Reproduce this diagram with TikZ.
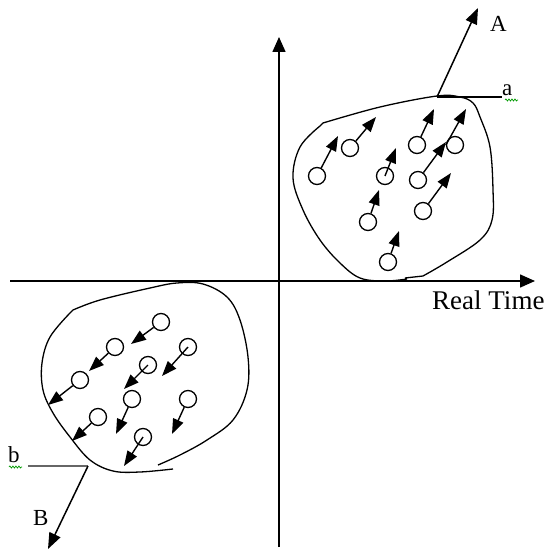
\documentclass[tikz,border=0pt]{standalone}
\usepackage{fontspec}
\setmainfont{Liberation Serif}
\usetikzlibrary{arrows.meta,decorations.pathmorphing}
\begin{document}
\begin{tikzpicture}[x=1pt,y=-1pt,
  dot/.style={circle,draw,line width=1.3pt,minimum size=17pt,inner sep=0pt},
  vec/.style={line width=1.4pt,-{Triangle[length=15pt,width=11pt]}},
  bigvec/.style={line width=1.5pt,-{Triangle[length=16pt,width=12pt]}},
  axis/.style={line width=1.5pt,-{Triangle[length=15pt,width=13pt]}},
  blob/.style={line width=1.3pt},
  lbl/.style={font=\fontsize{23}{27}\selectfont,inner sep=0pt,anchor=base west},
  squig/.style={green!60!black,line width=0.7pt,decorate,decoration={snake,amplitude=1pt,segment length=3pt}}
]
\useasboundingbox (0,0) rectangle (549,551);

% axes
\coordinate (xs) at (10,281);
\coordinate (xe) at (535,281);
\coordinate (ys) at (279,547);
\coordinate (ye) at (279,37);
\draw[axis] (xs) -- (xe);
\draw[axis] (ys) -- (ye);

% top-right blob
\draw[blob] plot[smooth,tension=0.6] coordinates {(407,279) (385,281) (360,278) (340,263) (320,240) (303,210) (293,178) (300,147) (320,126)}
  -- plot[smooth,tension=0.6] coordinates {(323,123) (380,107) (437,96) (460,97) (473,103) (480,117) (490,147) (493,190) (492,220) (480,240) (447,262) (423,276)} -- (405,278);

% bottom-left blob
\draw[blob] plot[smooth,tension=0.6] coordinates {(173,469) (140,472) (113,471) (90,460) (70,437) (53,413) (43,390) (42,363) (50,337) (70,313)}
  -- plot[smooth,tension=0.6] coordinates {(73,310) (100,300) (150,288) (177,283) (203,284) (227,297) (240,320) (248,357) (247,390) (233,420) (207,440) (180,455) (158,465)};

% A / a
\coordinate (pa) at (437,97);
\coordinate (ea) at (502,97);
\coordinate (ta) at (478,8);
\draw[line width=1.3pt] (pa) -- (ea);
\draw[bigvec] (pa) -- (ta);

% B / b
\coordinate (pb) at (88,466);
\coordinate (sb) at (28,466);
\coordinate (tb) at (48,549);
\draw[line width=2.2pt,black!60] (sb) -- (pb);
\draw[bigvec] (pb) -- (tb);

% labels
\node[lbl] (la) at (490,32) {A};
\node[lbl] (lsa) at (502,95) {a};
\node[lbl] (lsb) at (8,462) {b};
\node[lbl] (lB) at (33,525) {B};
\node[lbl,font=\fontsize{27}{32}\selectfont] (rt) at (432,309) {Real Time};
\draw[squig] (505,100) -- (518,100);
\draw[squig] (9,467) -- (22,467);

% top-right particles
\node[dot] (t1) at (317,176) {};
\node[dot] (t2) at (350,148) {};
\node[dot] (t3) at (385,176) {};
\node[dot] (t4) at (417,145) {};
\node[dot] (t5) at (455,145) {};
\node[dot] (t6) at (418,180) {};
\node[dot] (t7) at (368,222) {};
\node[dot] (t8) at (423,211) {};
\node[dot] (t9) at (388,262) {};
\coordinate (h1) at (338,136);
\coordinate (h2) at (376,117);
\coordinate (h3) at (396,148);
\coordinate (h4) at (434,109);
\coordinate (h5) at (466,109);
\coordinate (h6) at (446,142);
\coordinate (h7) at (379,190);
\coordinate (h8) at (451,173);
\coordinate (h9) at (399,231);
\draw[vec] (t1) -- (h1);
\draw[vec] (t2) -- (h2);
\draw[vec] (t3.center) -- (h3);
\draw[vec] (t4) -- (h4);
\draw[vec] (t5.west) -- (h5);
\draw[vec] (t6) -- (h6);
\draw[vec] (t7) -- (h7);
\draw[vec] (t8) -- (h8);
\draw[vec] (t9) -- (h9);

% bottom-left particles
\node[dot] (b1) at (161,322) {};
\node[dot] (b2) at (115,347) {};
\node[dot] (b3) at (188,347) {};
\node[dot] (b4) at (148,365) {};
\node[dot] (b5) at (80,380) {};
\node[dot] (b6) at (132,399) {};
\node[dot] (b7) at (188,399) {};
\node[dot] (b8) at (98,417) {};
\node[dot] (b9) at (143,437) {};
\coordinate (k1) at (131,344);
\coordinate (k2) at (89,371);
\coordinate (k3) at (162,376);
\coordinate (k4) at (124,389);
\coordinate (k5) at (48,405);
\coordinate (k6) at (116,434);
\coordinate (k7) at (172,434);
\coordinate (k8) at (72,441);
\coordinate (k9) at (124,466);
\draw[vec] (b1) -- (k1);
\draw[vec] (b2) -- (k2);
\draw[vec] (b3.center) -- (k3);
\draw[vec] (b4.center) -- (k4);
\draw[vec] (b5) -- (k5);
\draw[vec] (b6) -- (k6);
\draw[vec] (b7) -- (k7);
\draw[vec] (b8) -- (k8);
\draw[vec] (b9.center) -- (k9);
\end{tikzpicture}
\end{document}
